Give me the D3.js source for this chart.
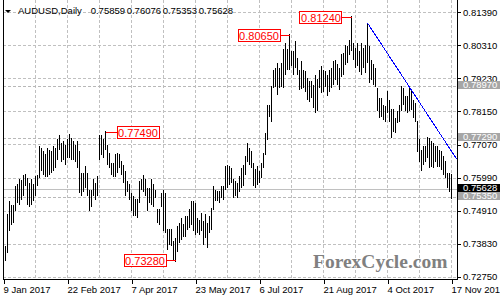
<!DOCTYPE html>
<html><head><meta charset="utf-8">
<script src="https://cdn.jsdelivr.net/npm/d3@7"></script>
<style>html,body{margin:0;padding:0;background:#fff;}svg{display:block;font-family:"Liberation Sans",Arial,sans-serif;}</style>
</head><body><svg id="c" width="500" height="300"></svg>
<script>
// ---- data ----
const highs = [
0.7379,0.7373,0.7477,0.7520,0.7509,0.7509,0.7569,0.7575,0.7591,0.7588,0.7607,0.7610,0.7596,0.7580,0.7591,0.7575,0.7602,0.7607,0.7700,0.7695,0.7683,0.7673,0.7695,0.7689,0.7683,
0.7700,0.7695,0.7722,0.7736,0.7711,0.7716,0.7705,0.7722,0.7740,0.7727,0.7716,0.7705,0.7716,0.7683,0.7613,0.7613,0.7634,0.7613,0.7558,0.7558,0.7591,0.7580,0.7602,0.7738,0.7738,
0.7722,0.7749,0.7705,0.7678,0.7646,0.7646,0.7673,0.7678,0.7673,0.7651,0.7640,0.7618,0.7585,0.7575,0.7547,0.7536,0.7526,0.7526,0.7585,0.7591,0.7607,0.7591,0.7564,0.7564,0.7591,
0.7575,0.7558,0.7493,0.7493,0.7547,0.7558,0.7547,0.7430,0.7428,0.7430,0.7389,0.7400,0.7438,0.7449,0.7466,0.7444,0.7471,0.7471,0.7493,0.7520,0.7520,0.7515,0.7466,0.7460,0.7482,
0.7455,0.7477,0.7449,0.7471,0.7498,0.7569,0.7558,0.7553,0.7553,0.7569,0.7569,0.7634,0.7640,0.7634,0.7629,0.7591,0.7585,0.7580,0.7602,0.7629,0.7640,0.7667,0.7711,0.7695,0.7683,
0.7646,0.7624,0.7634,0.7618,0.7646,0.7678,0.7744,0.7836,0.7836,0.7896,0.7950,0.7956,0.7972,0.7956,0.7972,0.8016,0.8038,0.8016,0.8065,0.8010,0.8010,0.8043,0.7989,0.7950,0.7977,
0.7950,0.7945,0.7923,0.7912,0.7912,0.7901,0.7934,0.7918,0.7950,0.7961,0.7950,0.7945,0.7934,0.7950,0.7956,0.7978,0.7983,0.7967,0.7956,0.8000,0.8005,0.8032,0.8027,0.8048,0.8124,
0.8038,0.8021,0.8038,0.8010,0.8038,0.8021,0.8032,0.8103,0.8027,0.7983,0.7967,0.7956,0.7891,0.7858,0.7858,0.7836,0.7831,0.7880,0.7852,0.7820,0.7820,0.7793,0.7814,0.7836,0.7896,
0.7891,0.7863,0.7863,0.7897,0.7885,0.7852,0.7842,0.7781,0.7722,0.7689,0.7700,0.7700,0.7729,0.7727,0.7716,0.7711,0.7700,0.7700,0.7689,0.7683,0.7667,0.7651,0.7613,0.7613,0.7608
];
const lows = [
0.7291,0.7330,0.7357,0.7428,0.7449,0.7455,0.7493,0.7520,0.7515,0.7531,0.7542,0.7575,0.7515,0.7509,0.7515,0.7526,0.7542,0.7575,0.7602,0.7624,0.7613,0.7607,0.7607,0.7613,0.7618,
0.7624,0.7634,0.7662,0.7695,0.7656,0.7662,0.7646,0.7667,0.7667,0.7662,0.7662,0.7656,0.7634,0.7553,0.7542,0.7558,0.7569,0.7542,0.7493,0.7509,0.7542,0.7531,0.7542,0.7662,0.7678,
0.7667,0.7695,0.7646,0.7634,0.7613,0.7607,0.7607,0.7618,0.7634,0.7613,0.7585,0.7542,0.7558,0.7531,0.7493,0.7477,0.7477,0.7471,0.7520,0.7564,0.7558,0.7542,0.7493,0.7520,0.7515,
0.7509,0.7536,0.7455,0.7449,0.7509,0.7428,0.7422,0.7368,0.7384,0.7379,0.7330,0.7328,0.7362,0.7389,0.7400,0.7411,0.7411,0.7433,0.7438,0.7449,0.7428,0.7417,0.7422,0.7417,0.7428,
0.7384,0.7406,0.7373,0.7422,0.7433,0.7498,0.7526,0.7526,0.7520,0.7536,0.7531,0.7564,0.7569,0.7580,0.7585,0.7536,0.7542,0.7536,0.7558,0.7569,0.7575,0.7613,0.7656,0.7646,0.7634,
0.7575,0.7569,0.7580,0.7585,0.7602,0.7634,0.7678,0.7727,0.7803,0.7787,0.7896,0.7901,0.7874,0.7896,0.7901,0.7896,0.7940,0.7956,0.7956,0.7967,0.7940,0.7961,0.7940,0.7891,0.7892,
0.7896,0.7885,0.7858,0.7852,0.7863,0.7831,0.7814,0.7820,0.7896,0.7880,0.7885,0.7901,0.7869,0.7885,0.7896,0.7907,0.7923,0.7907,0.7891,0.7934,0.7940,0.7972,0.7978,0.8005,0.8016,
0.7989,0.7961,0.7967,0.7950,0.7940,0.7961,0.7945,0.7978,0.7912,0.7923,0.7907,0.7901,0.7820,0.7798,0.7803,0.7793,0.7787,0.7814,0.7787,0.7732,0.7754,0.7749,0.7781,0.7787,0.7820,
0.7842,0.7820,0.7814,0.7820,0.7825,0.7798,0.7787,0.7689,0.7656,0.7624,0.7646,0.7656,0.7667,0.7634,0.7640,0.7634,0.7656,0.7640,0.7640,0.7629,0.7613,0.7602,0.7569,0.7558,0.7535
];
const dateLabels = ["9 Jan 2017","22 Feb 2017","7 Apr 2017","23 May 2017","6 Jul 2017","21 Aug 2017","4 Oct 2017","17 Nov 2017"];
const dateIndex = [0,32,64,96,128,160,192,224];
const priceTicks = [0.8139,0.8031,0.7923,0.7815,0.7707,0.7599,0.7491,0.7383,0.7275];
const levelLines = [0.7897,0.7729,0.7535];
const lastPrice = 0.75628;
const titleValues = ["0.75859","0.76076","0.75353","0.75628"];
const markIndex = [143,174,51,86];
const markValue = [0.8065,0.8124,0.7749,0.7328];
const markText = ["0.80650","0.81240","0.77490","0.73280"];
const markSide = ["left","left","right","left"];
const trendIndex = [182.1,226.6];
const trendValue = [0.8103,0.7659];

// ---- chart ----
const svg = d3.select("#c");
const x = d3.scaleLinear().domain([0,227]).range([3.5,457.5]);
const y = d3.scaleLinear().domain([0.7275,0.8139]).range([276.7,12.3]);
const py = v => Math.round(y(v)) + 0.5;
const L = 3, R = 457, B = 279;

const grid = svg.append("g").attr("shape-rendering","crispEdges");
grid.selectAll(".vg").data(d3.range(16,225,16)).join("line")
  .attr("x1",d=>x(d)).attr("x2",d=>x(d)).attr("y1",0).attr("y2",B)
  .attr("stroke","#c0c0c0").attr("stroke-dasharray","3,2");
grid.selectAll(".hg").data(priceTicks).join("line")
  .attr("x1",L).attr("x2",R).attr("y1",py).attr("y2",py)
  .attr("stroke","#c0c0c0").attr("stroke-dasharray","3,2");
grid.selectAll(".lv").data(levelLines).join("line")
  .attr("x1",L).attr("x2",R).attr("y1",py).attr("y2",py)
  .attr("stroke","#b8b8b8").attr("stroke-dasharray","3,2");
grid.append("line").attr("x1",L).attr("x2",R).attr("y1",py(lastPrice)).attr("y2",py(lastPrice))
  .attr("stroke","#c0c0c0");

// bars
svg.append("g").attr("shape-rendering","crispEdges")
  .selectAll("line").data(highs).join("line")
  .attr("x1",(d,i)=>x(i)).attr("x2",(d,i)=>x(i))
  .attr("y1",d=>Math.floor(y(d))).attr("y2",(d,i)=>Math.ceil(y(lows[i]))+1)
  .attr("stroke","#000").attr("stroke-width",1);

// trend line
svg.append("line").attr("shape-rendering","crispEdges")
  .attr("x1",x(trendIndex[0])).attr("y1",y(trendValue[0]))
  .attr("x2",x(trendIndex[1])).attr("y2",y(trendValue[1]))
  .attr("stroke","#0000ff").attr("stroke-width",1);

// frame
const fr = svg.append("g").attr("shape-rendering","crispEdges").attr("stroke","#000");
fr.append("line").attr("x1",L+0.5).attr("x2",L+0.5).attr("y1",0).attr("y2",B+1);
fr.append("line").attr("x1",R+0.5).attr("x2",R+0.5).attr("y1",0).attr("y2",B+1);
fr.append("line").attr("x1",L).attr("x2",R+1).attr("y1",B+0.5).attr("y2",B+0.5);

// right axis
const ya = svg.append("g").attr("transform",`translate(${R},0)`)
  .call(d3.axisRight(y).tickValues(priceTicks).tickSize(3).tickPadding(3).tickFormat(d3.format(".5f")));
ya.select(".domain").remove();
ya.selectAll(".tick line").attr("shape-rendering","crispEdges").attr("transform","translate(0.5,0)");
ya.selectAll(".tick text").attr("font-size","9.5px").attr("font-family","Liberation Sans, Arial, sans-serif").attr("fill","#000");

// bottom axis
const xa = svg.append("g").attr("transform",`translate(0,${B})`)
  .call(d3.axisBottom(x).tickValues(dateIndex).tickSize(4).tickFormat((d,i)=>dateLabels[i]));
xa.select(".domain").remove();
xa.selectAll(".tick line").attr("shape-rendering","crispEdges").attr("transform","translate(0,0.5)");
xa.selectAll(".tick text").attr("font-size","9.5px").attr("font-family","Liberation Sans, Arial, sans-serif")
  .attr("fill","#000").attr("text-anchor","start").attr("x",-0.5).attr("y",13.5).attr("dy",null);

// level tags on axis
const tags = svg.append("g").attr("shape-rendering","crispEdges");
function tag(v, fill){
  const cy = Math.round(y(v));
  tags.append("rect").attr("x",R+1).attr("y",cy-5).attr("width",45).attr("height",8).attr("fill",fill);
  tags.append("text").attr("x",R+6).attr("y",cy-1).attr("dy","0.36em").attr("font-size","9.5px").attr("fill","#fff").text(d3.format(".5f")(v));
}
levelLines.forEach(v=>tag(v,"#a6a6a6"));
tag(lastPrice,"#000");

// annotations
const an = svg.append("g");
markIndex.forEach((idx,k)=>{
  const bx = x(idx), vy = Math.round(y(markValue[k]))+0.5;
  const rx = markSide[k]==="left" ? bx-52 : bx+11;
  an.append("line").attr("shape-rendering","crispEdges")
    .attr("x1",markSide[k]==="left"?rx+42:bx).attr("x2",markSide[k]==="left"?bx:rx)
    .attr("y1",vy).attr("y2",vy).attr("stroke","#ff0000");
  an.append("rect").attr("shape-rendering","crispEdges").attr("x",Math.round(rx)+0.5).attr("y",Math.round(vy-6.5)+0.5)
    .attr("width",42).attr("height",12).attr("fill","#fff").attr("stroke","#ff0000");
  an.append("text").attr("x",rx+21.5).attr("y",vy+0.5).attr("dy","0.36em").attr("text-anchor","middle")
    .attr("font-size","11px").attr("fill","#ff0000").text(markText[k]);
});

// title
svg.append("path").attr("d","M5,10L11,10L8,13Z").attr("fill","#000");
svg.append("text").attr("x",18).attr("y",14).attr("font-size","9.5px").attr("fill","#000").text("AUDUSD,Daily");
titleValues.forEach((t,k)=>{
  svg.append("text").attr("x",90.7+36*k).attr("y",14).attr("font-size","9.5px").attr("fill","#000").text(t);
});

// watermark
svg.append("text").attr("x",313).attr("y",268).attr("font-family","Liberation Serif, Times New Roman, serif")
  .attr("font-weight","bold").attr("font-size","19.5px").attr("fill","#808080").text("ForexCycle.com");
</script></body></html>
